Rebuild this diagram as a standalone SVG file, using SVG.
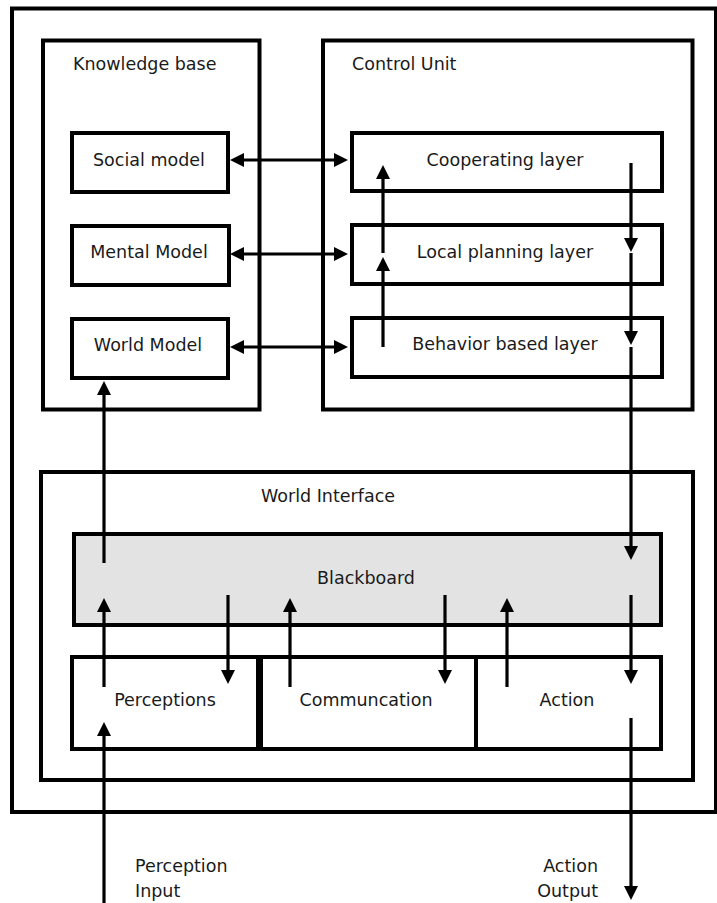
<svg xmlns="http://www.w3.org/2000/svg" width="717" height="903" viewBox="0 0 717 903">
  <style>
    .box { fill: #fff; stroke: #000; stroke-width: 4; }
    .board { fill: #e3e3e3; stroke: #000; stroke-width: 4; }
    .frame { fill: none; stroke: #000; stroke-width: 4; }
    .lbl { font-family: "DejaVu Sans", sans-serif; font-size: 17.5px; fill: #1a1a1a; }
    .mid { text-anchor: middle; }
    .end { text-anchor: end; }
    .wire { stroke: #000; stroke-width: 3.2; fill: none; marker-end: url(#head); }
    .both { marker-start: url(#head); }
  </style>
  <defs>
    <marker id="head" viewBox="0 0 14 14" refX="8" refY="7" markerWidth="14" markerHeight="14" markerUnits="userSpaceOnUse" orient="auto-start-reverse">
      <path d="M0,0 L14,7 L0,14 z" fill="#000"/>
    </marker>
  </defs>
  <rect width="717" height="903" fill="#fff"/>

  <!-- agent boundary -->
  <g id="agent">
    <rect class="frame" x="12" y="8.5" width="704" height="803.5"/>
  </g>

  <!-- knowledge base -->
  <g id="knowledge-base">
    <rect class="box" x="43" y="40.5" width="216.5" height="369"/>
    <text class="lbl" x="73" y="70">Knowledge base</text>
  </g>
  <g id="social-model">
    <rect class="box" x="72" y="133" width="156" height="59"/>
    <text class="lbl mid" x="149" y="166">Social model</text>
  </g>
  <g id="mental-model">
    <rect class="box" x="72" y="226" width="157" height="59"/>
    <text class="lbl mid" x="149" y="258">Mental Model</text>
  </g>
  <g id="world-model">
    <rect class="box" x="72" y="319" width="156" height="59"/>
    <text class="lbl mid" x="148" y="351">World Model</text>
  </g>

  <!-- control unit -->
  <g id="control-unit">
    <rect class="box" x="323" y="40.5" width="369.5" height="369"/>
    <text class="lbl" x="352" y="70">Control Unit</text>
  </g>
  <g id="cooperating-layer">
    <rect class="box" x="352" y="133" width="310" height="58"/>
    <text class="lbl mid" x="505" y="166">Cooperating layer</text>
  </g>
  <g id="local-planning-layer">
    <rect class="box" x="352" y="225" width="310" height="59"/>
    <text class="lbl mid" x="505" y="258">Local planning layer</text>
  </g>
  <g id="behavior-layer">
    <rect class="box" x="352" y="318" width="310" height="59"/>
    <text class="lbl mid" x="505" y="350">Behavior based layer</text>
  </g>

  <!-- world interface -->
  <g id="world-interface">
    <rect class="box" x="41" y="472" width="652" height="308"/>
    <text class="lbl mid" x="328" y="502">World Interface</text>
  </g>
  <g id="blackboard">
    <rect class="board" x="74" y="534" width="587" height="91"/>
    <text class="lbl mid" x="366" y="584">Blackboard</text>
  </g>
  <g id="perceptions">
    <rect class="box" x="72" y="657" width="186" height="92"/>
    <text class="lbl mid" x="165" y="706">Perceptions</text>
  </g>
  <g id="communication">
    <rect class="box" x="261" y="657" width="215" height="92"/>
    <text class="lbl mid" x="366" y="706">Communcation</text>
  </g>
  <g id="action">
    <rect class="box" x="476" y="657" width="185" height="92"/>
    <text class="lbl mid" x="567" y="706">Action</text>
  </g>

  <!-- external labels -->
  <g id="perception-input">
    <text class="lbl" x="135" y="872">Perception</text>
    <text class="lbl" x="135" y="897">Input</text>
  </g>
  <g id="action-output">
    <text class="lbl end" x="598" y="872">Action</text>
    <text class="lbl end" x="598" y="897">Output</text>
  </g>

  <!-- connectors -->
  <g id="connectors">
    <!-- knowledge base <-> control unit -->
    <line class="wire both" x1="236" y1="160" x2="342" y2="160"/>
    <line class="wire both" x1="236" y1="254" x2="342" y2="254"/>
    <line class="wire both" x1="236" y1="347" x2="342" y2="347"/>
    <!-- layers upward -->
    <line class="wire" x1="383" y1="347" x2="383" y2="263"/>
    <line class="wire" x1="383" y1="253" x2="383" y2="171"/>
    <!-- layers downward -->
    <line class="wire" x1="631" y1="163" x2="631" y2="246"/>
    <line class="wire" x1="631" y1="253" x2="631" y2="339"/>
    <line class="wire" x1="631" y1="347" x2="631" y2="554"/>
    <!-- blackboard to world model -->
    <line class="wire" x1="104" y1="563" x2="104" y2="387"/>
    <!-- blackboard exchange -->
    <line class="wire" x1="104" y1="687" x2="104" y2="604"/>
    <line class="wire" x1="228" y1="595" x2="228" y2="678"/>
    <line class="wire" x1="290" y1="687" x2="290" y2="604"/>
    <line class="wire" x1="445" y1="595" x2="445" y2="678"/>
    <line class="wire" x1="507" y1="687" x2="507" y2="604"/>
    <line class="wire" x1="631" y1="595" x2="631" y2="678"/>
    <!-- external input / output -->
    <line class="wire" x1="104" y1="903" x2="104" y2="728"/>
    <line class="wire" x1="631" y1="718" x2="631" y2="894"/>
  </g>
</svg>
